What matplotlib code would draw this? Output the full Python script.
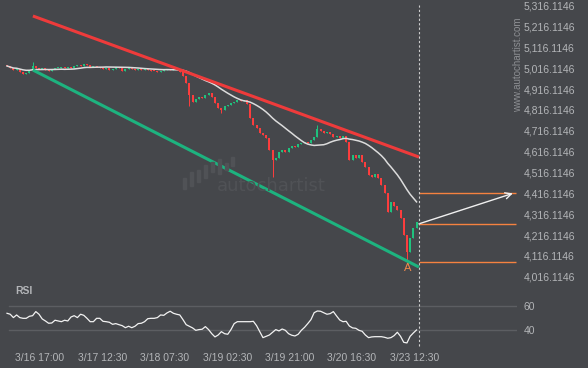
import numpy as np
import pandas as pd
import matplotlib
matplotlib.use("Agg")
import matplotlib.pyplot as plt
from matplotlib.patches import Rectangle

plt.rcParams['font.family'] = ['Liberation Sans', 'DejaVu Sans']

# hourly closes
closes = [5026.9, 5017.3, 5007.7, 5012.5, 4998.1, 4988.6, 4993.4, 5007.7, 5026.9, 5017.3,
          5012.5, 5017.3, 5007.7, 5002.9, 5012.5, 5017.3, 5019.0, 5022.1, 5017.3, 5022.1,
          5017.3, 5026.9, 5031.7, 5026.9, 5036.5, 5031.7, 5022.1, 5026.9, 5022.1, 5017.3,
          5012.5, 5017.3, 5007.7, 5012.5, 5022.1, 5017.3, 5002.9, 5012.5, 5017.3, 5012.5,
          5007.7, 5012.5, 5007.7, 5012.5, 5007.7, 5005.0, 5002.9, 4998.1, 5002.9, 5007.7,
          5012.5, 5007.7, 5012.5, 5007.7, 4998.1, 4979.0, 4945.4, 4888.0, 4854.3, 4868.7,
          4878.2, 4873.5, 4888.0, 4897.4, 4878.2, 4849.5, 4825.5, 4815.9, 4835.1, 4839.9,
          4849.5, 4854.3, 4863.9, 4859.1, 4863.9, 4844.7, 4777.6, 4744.0, 4729.6, 4705.7,
          4696.1, 4681.7, 4624.2, 4576.2, 4585.8, 4614.6, 4624.2, 4614.6, 4633.8, 4643.3,
          4638.5, 4652.9, 4657.7, 4662.5, 4657.7, 4672.1, 4686.5, 4724.8, 4715.2, 4705.7,
          4710.4, 4700.9, 4686.5, 4691.3, 4681.7, 4691.3, 4662.5, 4576.2, 4600.2, 4585.8,
          4600.2, 4566.6, 4542.6, 4504.2, 4494.7, 4509.0, 4489.9, 4456.3, 4417.9, 4326.8,
          4374.8, 4355.6, 4336.4, 4298.0, 4216.4, 4134.9, 4202.0, 4250.0, 4278.8]
first_open = 5031.0
wick_low = {57: 4835, 67: 4801, 83: 4497, 125: 4086}
wick_high = {8: 5046, 97: 4744}

rsi = [53.9, 53.1, 50.3, 52.5, 50.3, 49.7, 49.7, 51.4, 51.9, 55.3,
       53.1, 49.2, 47.5, 45.6, 45.8, 48.1, 47.5, 46.9, 48.1, 47.5,
       50.8, 51.9, 50.3, 53.1, 52.2, 49.7, 46.9, 46.9, 49.7, 49.7,
       47.2, 46.9, 46.4, 44.7, 45.3, 44.4, 43.6, 41.9, 43.1, 41.9,
       43.1, 45.3, 45.6, 46.9, 49.4, 49.7, 49.7, 50.3, 52.5, 52.2,
       54.2, 55.6, 53.9, 53.1, 52.5, 48.6, 44.4, 43.1, 41.7, 39.7,
       40.3, 40.6, 42.8, 40.3, 36.9, 34.2, 35.8, 38.6, 36.9, 36.4,
       40.3, 45.3, 46.9, 46.9, 46.9, 46.9, 46.9, 47.2, 43.6, 38.6,
       33.6, 34.7, 35.8, 38.1, 40.3, 39.2, 40.8, 39.7, 36.9, 35.6,
       35.0, 36.4, 39.7, 42.2, 45.3, 48.6, 54.4, 55.8, 55.6, 54.4,
       53.1, 53.6, 55.3, 51.7, 48.3, 46.9, 47.2, 43.3, 41.7, 41.4,
       39.7, 38.9, 35.8, 33.6, 34.2, 34.4, 34.4, 34.4, 33.9, 33.1,
       33.6, 35.3, 38.1, 34.7, 29.7, 29.2, 34.7, 37.5, 40.0]

# pattern lines (candle index, price)
resistance = [(8.1, 5266.7), (128.75, 4590.4)]
support = [(8.1, 5007.7), (128.75, 4062.9)]
levels = [4416.1146, 4270.0, 4086.0]
target = 4416.1146
now_x = 128.75

price_ticks = [4016.1146 + 100 * k for k in range(14)]
date_pos = [10.3, 29.8, 49.3, 68.8, 88.3, 107.8, 127.3]
date_labels = ['3/16 17:00', '3/17 12:30', '3/18 07:30', '3/19 02:30',
               '3/19 21:00', '3/20 16:30', '3/23 12:30']

bg = '#45474b'
txt = '#b3b5b8'
up_c = '#1fc47f'
dn_c = '#ff3d3d'

fig = plt.figure(figsize=(5.88, 3.68), dpi=100, facecolor=bg)
W, H = 588.0, 368.0
ax = fig.add_axes([0, 1 - 296 / H, 517 / W, 296 / H], facecolor=bg)
ax2 = fig.add_axes([0, 1 - 350 / H, 517 / W, 54 / H], facecolor=bg)

x = np.arange(len(closes))
c = np.array(closes)
o = np.concatenate([[first_open], c[:-1]])
hi = np.maximum(o, c)
lo = np.minimum(o, c)
for k, v in wick_low.items():
    lo[k] = v
for k, v in wick_high.items():
    hi[k] = v
cols = np.where(c >= o, up_c, dn_c)

# watermark
for i, (bx, b0, b1) in enumerate([(183, 178, 189), (190, 172, 186), (197, 170, 182),
                                  (204, 165, 178), (211, 162, 172), (218, 159, 174),
                                  (225, 163, 170), (231, 157, 166)]):
    fig.patches.append(Rectangle((bx / W, 1 - b1 / H), 3 / W, (b1 - b0) / H,
                                 transform=fig.transFigure, color='#505256', zorder=0))
fig.text(217 / W, 1 - 186 / H, 'autochartist', color='#505256', fontsize=13,
         family='DejaVu Sans', va='center', ha='left', zorder=0)

ax.vlines(x, lo, hi, colors=cols, lw=0.7, zorder=3)
ax.vlines(x, np.minimum(o, c) - 0.8, np.maximum(o, c) + 0.8, colors=cols, lw=1.4, zorder=3)

ma = pd.Series(closes).rolling(18, min_periods=1).mean()
ax.plot(x, ma, color='#dcdcdc', lw=1.1, zorder=4)

ax.plot(*zip(*resistance), color='#ee3b3b', lw=2.2, zorder=5, solid_capstyle='butt')
ax.plot(*zip(*support), color='#1db37f', lw=2.2, zorder=5, solid_capstyle='butt')

for lv in levels:
    ax.hlines(lv, now_x, 159.1, color='#f58240', lw=1.0, zorder=5)
ax.annotate('', xy=(158.1, target), xytext=(now_x, levels[1]),
            arrowprops=dict(arrowstyle='->', color='#f0f0f0', lw=1.0,
                            mutation_scale=11, shrinkA=0, shrinkB=0), zorder=6)
ax.text(125.3, 4058, 'A', color='#f08a4b', fontsize=8, ha='center', va='center', zorder=6)

ax.axvline(now_x, ymax=1 - 5 / 296, color='#cfcfcf', lw=0.8, ls=(0, (2, 2)), zorder=6)
ax2.axvline(now_x, ymin=0.08, color='#cfcfcf', lw=0.8, ls=(0, (2, 2)), zorder=6)

ax.set_xlim(-2.19, 159.4)
ax.set_ylim(3924, 5343.4)
ax.yaxis.tick_right()
ax.set_yticks(price_ticks)
ax.set_yticklabels([f'{v:,.4f}' for v in price_ticks])
ax.tick_params(axis='y', length=0, pad=4.5, labelsize=7.5, labelcolor=txt)
ax.set_xticks([])
for s in ax.spines.values():
    s.set_visible(False)

fig.text(518 / W, 1 - 65 / H, 'www.autochartist.com', rotation=90, color='#8d8f93',
         fontsize=7, ha='center', va='center')

# RSI panel
for lvl in (60, 40):
    ax2.axhline(lvl, xmin=9.2 / 517, color='#5c5e62', lw=1.0, zorder=1)
ax2.plot(x, rsi, color='#f2f2f2', lw=0.9, zorder=3)
ax2.set_xlim(-2.19, 159.4)
ax2.set_ylim(23.3, 68.3)
ax2.yaxis.tick_right()
ax2.set_yticks([40, 60])
ax2.tick_params(axis='y', length=0, pad=4.5, labelsize=7.5, labelcolor=txt)
ax2.set_xticks(date_pos)
ax2.set_xticklabels(date_labels)
ax2.tick_params(axis='x', length=0, pad=2.5, labelsize=7.5, labelcolor=txt)
for s in ax2.spines.values():
    s.set_visible(False)
fig.text(15 / W, 1 - 291 / H, 'RSI', color=txt, fontsize=7.5, fontweight='bold',
         ha='left', va='center')

fig.savefig('out.png', dpi=100, facecolor=bg)
